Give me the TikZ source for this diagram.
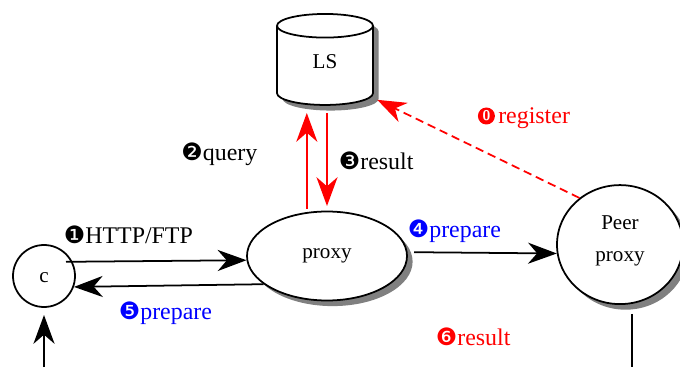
\documentclass[tikz,border=0pt]{standalone}
\usepackage{fontspec}
\setmainfont{Liberation Serif}
\newfontfamily\dingfont{DejaVu Sans}
\usetikzlibrary{arrows.meta,shapes.geometric,shadows}
\newcommand{\stepno}[1]{{\dingfont\fontsize{17}{18}\selectfont #1}}
\tikzset{
  flow/.style={line width=1.25pt, -{Stealth[length=20.5pt, width=15pt, inset=6.5pt]}},
  grayshadow/.style={general shadow={fill=gray, shadow xshift=.14cm, shadow yshift=-.14cm}},
  box/.style={draw, line width=1.25pt, fill=white, inner sep=0pt, align=center, font=\fontsize{15}{22.7}\selectfont},
  steplabel/.style={anchor=base west, inner sep=0pt, font=\fontsize{17}{20}\selectfont}
}
\begin{document}
\begin{tikzpicture}
  \useasboundingbox (0,0) rectangle (17,9.175);
  \node[box, circle, minimum size=1.55cm, text height=9pt] (c) at (1.1,2.275) {c};
  \node[box, ellipse, grayshadow, minimum width=4cm, minimum height=2.225cm] (proxy) at (8.175,2.775) {proxy};
  \node[box, ellipse, grayshadow, minimum width=3.15cm, minimum height=2.975cm, text depth=8pt] (peer) at (15.5,3.06) {Peer\\proxy};
  \node[box, cylinder, shape border rotate=90, shape aspect=.96, grayshadow, minimum width=2.4cm, minimum height=2.275cm, text depth=5.5pt] (ls) at (8.125,7.53) {LS};
%
  \coordinate (cin) at (1.65,2.63);
  \coordinate (cbottom) at (1.1,0);
  \coordinate (ctop) at (1.1,1.3);
  \coordinate (lsup) at (7.67,6.35);
  \coordinate (lsdown) at (8.175,6.35);
  \coordinate (lscorner) at (9.43,6.68);
  \coordinate (proxyleft) at (7.67,3.95);
  \coordinate (proxytop) at (8.175,4.025);
  \coordinate (proxyright) at (10.35,2.87);
  \coordinate (peerbottom) at (15.8,1.33);
  \coordinate (pagebottom) at (15.8,0);
%
  \draw[flow] (cin) -- (proxy.183);
  \draw[flow] (proxy.204) -- (c.-20);
  \draw[flow] (cbottom) -- (ctop);
  \draw[flow] (proxyright) -- (peer.188);
  \draw[flow, red] (proxyleft) -- (lsup);
  \draw[flow, red] (lsdown) -- (proxytop);
  \draw[flow, red, dash pattern=on 6pt off 3.5pt] (peer.131) -- (lscorner);
  \draw[line width=1.25pt] (peerbottom) -- (pagebottom);
%
  \node[steplabel] (http) at (1.59,3.1) {\stepno{❶}HTTP/FTP};
  \node[steplabel] (query) at (4.53,5.15) {\stepno{❷}query};
  \node[steplabel] (res) at (8.465,4.93) {\stepno{❸}result};
  \node[steplabel, blue] (prep) at (10.19,3.25) {\stepno{❹}prepare};
  \node[steplabel, blue] (back) at (2.965,1.2) {\stepno{❺}prepare};
  \node[circle, fill=red, text=white, inner sep=0pt, minimum size=.425cm, font=\sffamily\bfseries\fontsize{10}{10}\selectfont] (zero) at (12.16,6.275) {0};
  \node[steplabel, red] (reg) at (12.45,6.075) {register};
  \node[steplabel, red] (final) at (10.89,0.55) {\stepno{❻}result};
\end{tikzpicture}
\end{document}
